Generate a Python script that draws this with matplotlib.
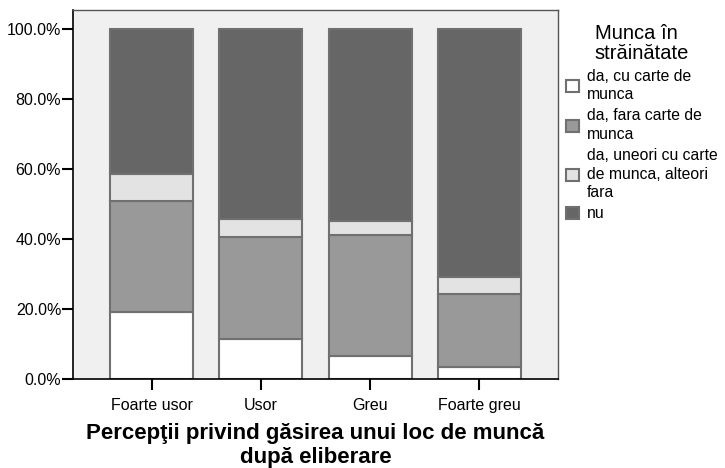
import matplotlib
matplotlib.use("Agg")
import matplotlib.pyplot as plt
import numpy as np
from matplotlib.ticker import FuncFormatter
from matplotlib.patches import Patch

plt.rcParams['font.family'] = ['Liberation Sans', 'DejaVu Sans']

# Data (percent of each category)
categories = ['Foarte usor', 'Usor', 'Greu', 'Foarte greu']
cu_carte = [19.2, 11.4, 6.6, 3.4]
fara_carte = [31.6, 29.1, 34.4, 20.9]
uneori = [7.8, 5.2, 4.0, 4.9]
nu = [41.4, 54.3, 55.0, 70.8]

series = [cu_carte, fara_carte, uneori, nu]
labels = ['da, cu carte de\nmunca', 'da, fara carte de\nmunca',
          'da, uneori cu carte\nde munca, alteori\nfara', 'nu']
colors = ['#ffffff', '#999999', '#e3e3e3', '#666666']

fig = plt.figure(figsize=(7.25, 4.68), dpi=100)
ax = fig.add_axes([0.1007, 0.1902, 0.669, 0.7884])
ax.set_facecolor('#f0f0f0')

x = np.arange(len(categories))
bottom = np.zeros(len(categories))
for vals, col in zip(series, colors):
    ax.bar(x, vals, width=0.76, bottom=bottom, color=col,
           edgecolor='#707070', linewidth=1.5)
    bottom += np.array(vals)

ax.set_xlim(-0.72, 3.72)
ax.set_ylim(0, 105.3)
ax.set_yticks([0, 20, 40, 60, 80, 100])
ax.yaxis.set_major_formatter(FuncFormatter(lambda v, p: f'{v:.1f}%'))
ax.set_xticks(x)
ax.set_xticklabels(categories)
ax.tick_params(axis='both', direction='out', length=8, width=1.5,
               labelsize=11.5, color='black')
ax.tick_params(axis='y', pad=0.5)
ax.tick_params(axis='x', pad=6)

for side in ['left', 'bottom']:
    ax.spines[side].set_color('black')
    ax.spines[side].set_linewidth(1.2)
for side in ['top', 'right']:
    ax.spines[side].set_color('#555555')
    ax.spines[side].set_linewidth(1)

ax.set_xlabel('Percepţii privind găsirea unui loc de muncă\ndupă eliberare',
              fontsize=16, fontweight='bold', linespacing=1.2, labelpad=7)

handles = [Patch(facecolor=c, edgecolor='#707070', linewidth=1.5) for c in colors]
leg = fig.legend(handles, labels, title='Munca în\nstrăinătate',
                 loc='upper left', bbox_to_anchor=(0.772, 0.962),
                 frameon=False, fontsize=11.3, title_fontsize=14.5,
                 handlelength=0.8, handleheight=0.8, handletextpad=0.55,
                 labelspacing=0.38, borderaxespad=0)
leg.get_title().set_linespacing(1.05)
for t in leg.get_texts():
    t.set_linespacing(1.3)

fig.savefig('out.png', dpi=100)
